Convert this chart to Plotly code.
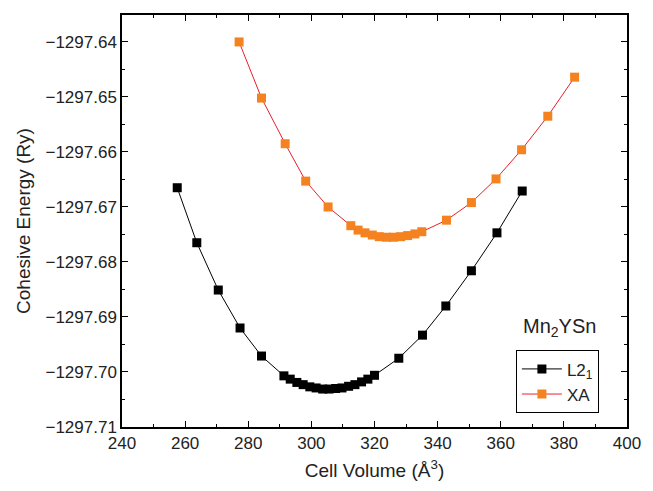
import plotly.graph_objects as go

# Data
l21_vol = [257.5, 263.7, 270.5, 277.4, 284.2, 291.3, 293.3, 295.4, 297.4, 299.5,
           301.5, 303.6, 305.6, 307.7, 309.7, 311.8, 313.8, 315.9, 317.9, 320.0,
           327.7, 335.2, 342.6, 350.7, 358.8, 366.8]
l21_e = [-1297.6665, -1297.6765, -1297.6851, -1297.6920, -1297.6971, -1297.7007,
         -1297.7013, -1297.7019, -1297.7023, -1297.7027, -1297.7029, -1297.7031,
         -1297.7031, -1297.7030, -1297.7029, -1297.7026, -1297.7023, -1297.7018,
         -1297.7013, -1297.7006, -1297.6975, -1297.6933, -1297.6880, -1297.6816,
         -1297.6747, -1297.6671]

xa_vol = [277.1, 284.2, 291.7, 298.2, 305.3, 312.5, 314.8, 317.0, 319.3, 321.5,
          323.8, 326.0, 328.3, 330.5, 332.8, 335.0, 342.8, 350.7, 358.5, 366.6,
          374.9, 383.4]
xa_e = [-1297.6400, -1297.6502, -1297.6585, -1297.6653, -1297.6700, -1297.6734,
        -1297.6742, -1297.6747, -1297.6751, -1297.6754, -1297.6755, -1297.6755,
        -1297.6754, -1297.6752, -1297.6749, -1297.6745, -1297.6724, -1297.6692,
        -1297.6649, -1297.6596, -1297.6535, -1297.6464]

x_range = [240, 400]
y_range = [-1297.71, -1297.6351]

FONT = "Arial, Liberation Sans, sans-serif"
TXT = "#222222"

fig = go.Figure()
fig.add_trace(go.Scatter(
    x=l21_vol, y=l21_e, mode="lines+markers", name="L2<sub>1</sub>",
    line=dict(color="#000000", width=1),
    marker=dict(symbol="square", size=9, color="#000000"),
))
fig.add_trace(go.Scatter(
    x=xa_vol, y=xa_e, mode="lines+markers", name="XA",
    line=dict(color="#E8202A", width=1),
    marker=dict(symbol="square", size=9, color="#F58220"),
))

axis_common = dict(
    showline=True, linecolor="#000000", linewidth=1.5, mirror="ticks",
    ticks="inside", ticklen=6, tickwidth=1.2, tickcolor="#000000",
    showgrid=False, zeroline=False,
    tickfont=dict(family=FONT, size=17, color=TXT),
    minor=dict(ticks="inside", ticklen=3, tickwidth=1.2, tickcolor="#000000", showgrid=False),
)

fig.update_xaxes(range=x_range, dtick=20, tick0=240,
                 title=dict(text="Cell Volume (Å<sup>3</sup>)", font=dict(family=FONT, size=19, color=TXT), standoff=12),
                 minor_dtick=10, **axis_common)
fig.update_yaxes(range=y_range, dtick=0.01, tick0=-1297.71, tickformat=".2f",
                 title=dict(text="Cohesive Energy (Ry)", font=dict(family=FONT, size=19, color=TXT), standoff=10),
                 minor_dtick=0.005, **axis_common)

fig.add_annotation(text="Mn<sub>2</sub>YSn", xref="paper", yref="paper",
                   x=0.866, y=0.2427, showarrow=False, xanchor="center", yanchor="middle",
                   font=dict(family=FONT, size=20, color=TXT))

fig.update_layout(
    width=653, height=491,
    margin=dict(l=122, r=16, t=15, b=64),
    plot_bgcolor="white", paper_bgcolor="white",
    showlegend=True,
    legend=dict(x=0.780, y=0.186, xanchor="left", yanchor="top",
                bordercolor="#000000", borderwidth=1, bgcolor="white",
                font=dict(family=FONT, size=17, color=TXT),
                tracegroupgap=0, itemwidth=40),
)

fig.write_html("out.html")
